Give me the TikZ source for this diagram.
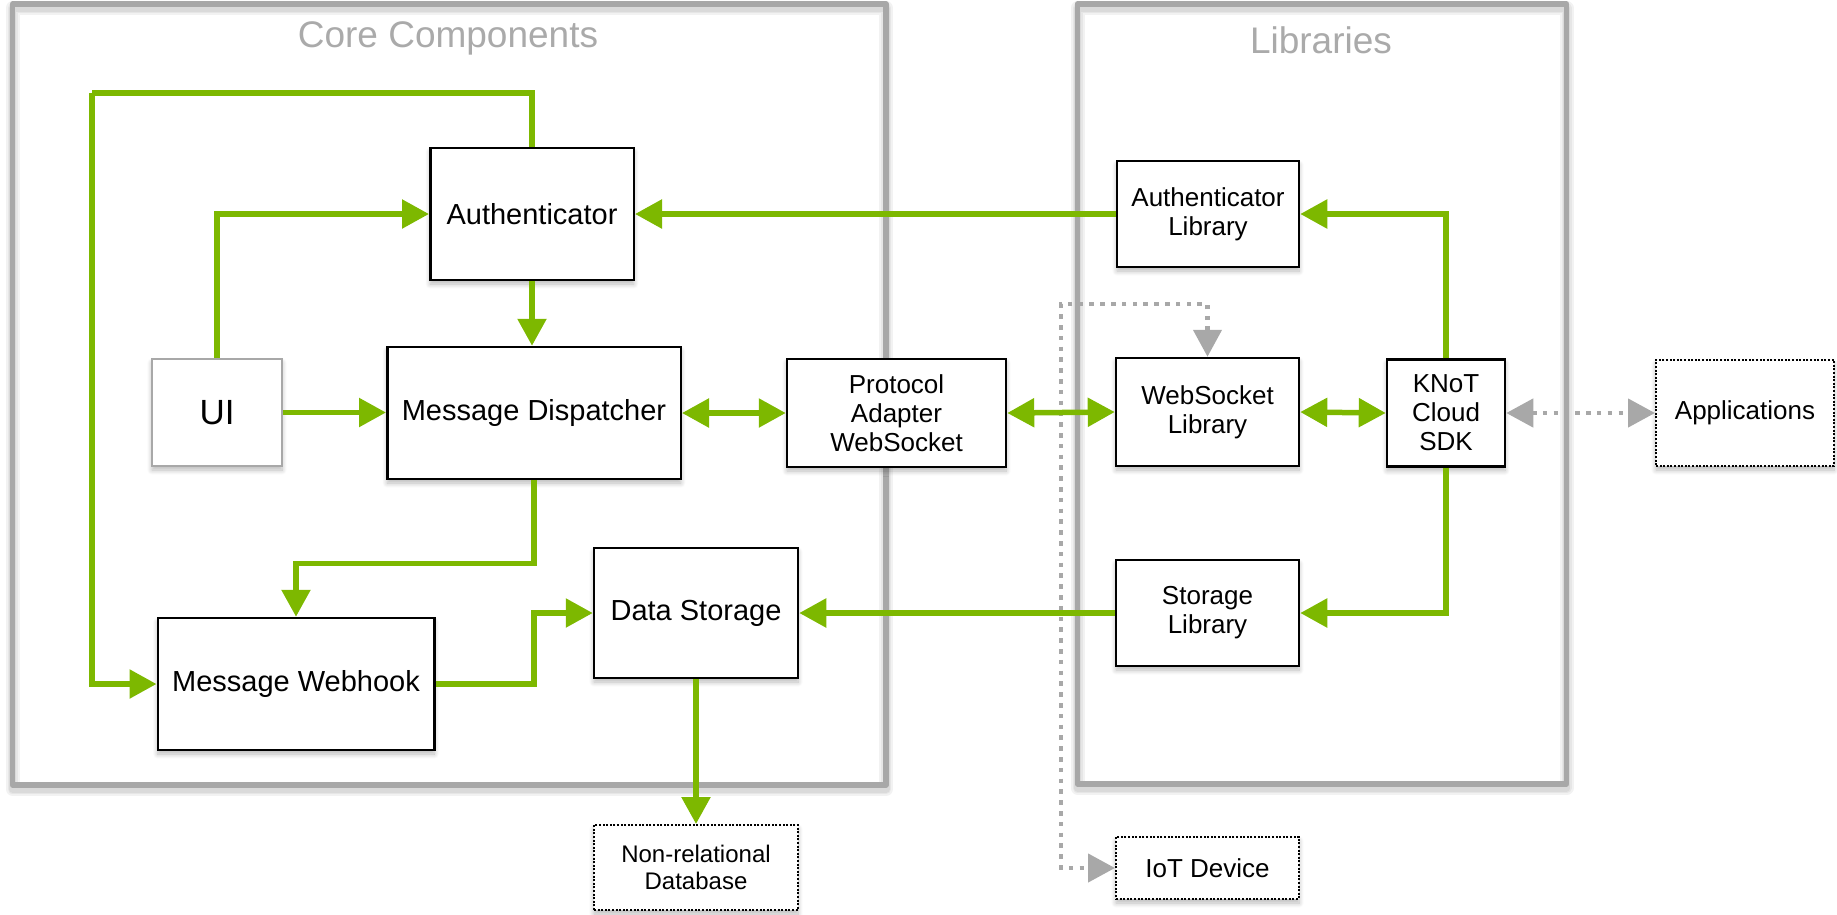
\documentclass[tikz,border=0pt]{standalone}
\usepackage{fontspec}
\setmainfont{Liberation Sans}
\usetikzlibrary{arrows.meta,shadows.blur}

\definecolor{flowgreen}{RGB}{125,184,0}
\definecolor{framegray}{RGB}{168,168,168}
\definecolor{linkgray}{RGB}{168,168,168}
\definecolor{titlegray}{RGB}{170,170,170}

\tikzset{
  softshadow/.style={blur shadow={shadow xshift=0pt, shadow yshift=-4pt,
      shadow blur radius=5pt, shadow blur steps=8, shadow opacity=28}},
  frame/.style={draw=framegray, line width=5.5pt, line join=round},
  frameshade/.style={draw=black, line join=round, opacity=0.05},
  grouptitle/.style={text=titlegray, font=\fontsize{37}{40}\selectfont, inner sep=0pt},
  corebox/.style={draw=black, line width=2.5pt, fill=white, align=center,
      inner sep=0pt, font=\fontsize{29}{33}\selectfont, softshadow},
  smallbox/.style={corebox, font=\fontsize{26}{29}\selectfont},
  uibox/.style={draw=framegray, line width=2pt, fill=white, inner sep=0pt,
      font=\fontsize{35}{38}\selectfont, softshadow},
  extbox/.style={draw=black, line width=2pt, dash pattern=on 2pt off 1.6pt,
      fill=white, align=center, inner sep=0pt,
      font=\fontsize{26}{29}\selectfont, softshadow},
  tip/.tip={Triangle[length=27pt,width=28pt]},
  flow/.style={draw=flowgreen, line width=5.5pt, -tip},
  flowboth/.style={draw=flowgreen, line width=5.5pt, tip-tip},
  plainflow/.style={draw=flowgreen, line width=5.5pt},
  link/.style={draw=linkgray, line width=4.5pt, dash pattern=on 4.5pt off 6.3pt, tip-tip},
}

\begin{document}
\begin{tikzpicture}[x=1pt,y=-1pt]
\useasboundingbox (0,0) rectangle (1837,914);

% soft shading under the group frames
\foreach \w in {14,10,7}{
  \draw[frameshade, line width=\w pt] (12.6,8) rectangle (886,789);
  \draw[frameshade, line width=\w pt] (1077.5,8) rectangle (1566.5,788);
}
% group frames
\draw[frame] (12.6,4) rectangle (886,785);
\draw[frame] (1077.5,4) rectangle (1566.5,784);
\node[grouptitle] (coretitle) at (448,38) {Core Components};
\node[grouptitle] (libtitle) at (1321,40) {Libraries};

% core components
\node[corebox, minimum width=203.5pt, minimum height=132pt] (auth) at (532,214) {Authenticator};
\node[uibox, minimum width=130pt, minimum height=107pt] (ui) at (217,412.5) {UI};
\node[corebox, minimum width=293.5pt, minimum height=132pt] (disp) at (534,413) {Message Dispatcher};
\node[smallbox, minimum width=219pt, minimum height=108pt] (proto) at (896.5,413) {Protocol\\Adapter\\WebSocket};
\node[corebox, minimum width=204pt, minimum height=130pt] (store) at (696,613) {Data Storage};
\node[corebox, minimum width=276.5pt, minimum height=132pt] (hook) at (296,684) {Message Webhook};

% libraries
\node[smallbox, minimum width=182pt, minimum height=106pt] (authlib) at (1208,214) {Authenticator\\Library};
\node[smallbox, minimum width=183pt, minimum height=108pt] (wslib) at (1207.5,412) {WebSocket\\Library};
\node[smallbox, minimum width=118pt, minimum height=107pt] (sdk) at (1446,413) {KNoT\\Cloud\\SDK};
\node[smallbox, minimum width=183pt, minimum height=106pt] (storelib) at (1207.5,613) {Storage\\Library};

% external parts
\node[extbox, minimum width=204pt, minimum height=85pt, font=\fontsize{24}{27}\selectfont] (nosql) at (696,867.5) {Non-relational\\Database};
\node[extbox, minimum width=178pt, minimum height=106pt] (apps) at (1745,413) {Applications};
\node[extbox, minimum width=183pt, minimum height=62pt] (iot) at (1207.5,868) {IoT Device};

% device / application links
\coordinate (bendtop) at (1061,304);
\draw[link] (wslib.north) |- (bendtop) |- (iot.west);
\draw[link] (sdk.east) -- (apps.west);

% message flow
\coordinate (loop) at (92,93);
\draw[plainflow] (auth.north) |- (loop);
\draw[flow] (loop) |- (hook.west);
\draw[flow] (ui.north) |- (auth.west);
\draw[flow] (auth.south) -- (auth.south |- disp.north);
\draw[flow] (ui.east) -- (disp.west |- ui.east);
\draw[flowboth] (disp.east) -- (proto.west);
\draw[flow] (disp.south) -- ++(0,83) -| (hook.north);
\draw[flow] (hook.east) -- ++(98.5,0) |- (store.west);
\draw[flow] (store.south) -- (nosql.north);
\draw[flow] (authlib.west) -- (auth.east);
\draw[flow] (storelib.west) -- (store.east);
\draw[flowboth] (proto.east) -- (wslib.west);
\draw[flowboth] (wslib.east) -- (sdk.west);
\draw[flow] (sdk.north) |- (authlib.east);
\draw[flow] (sdk.south) |- (storelib.east);
\end{tikzpicture}
\end{document}
